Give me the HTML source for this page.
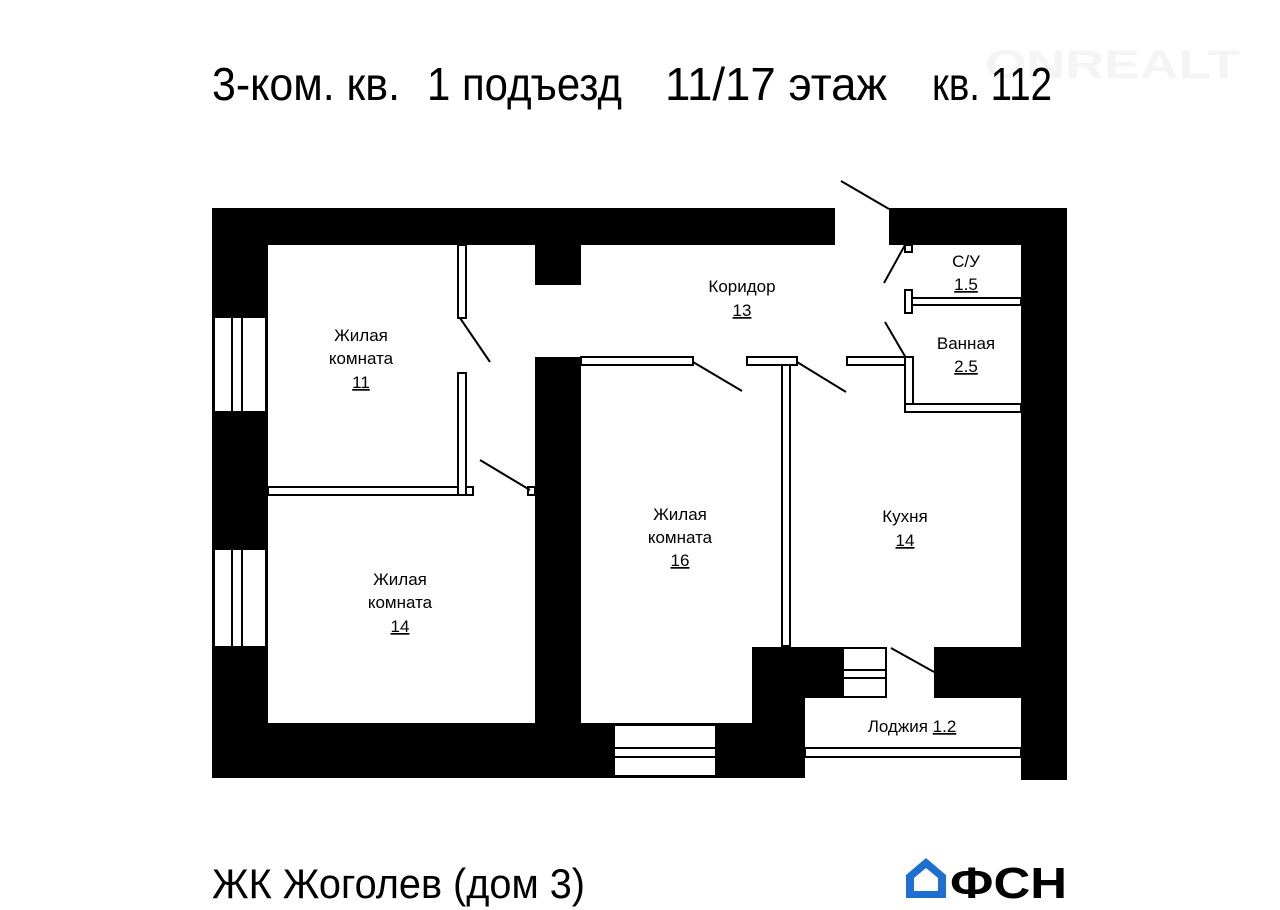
<!DOCTYPE html>
<html><head><meta charset="utf-8"><style>
html,body{margin:0;padding:0;background:#fff;width:1280px;height:910px;overflow:hidden}
svg text{font-family:"Liberation Sans",sans-serif;fill:#000}
</style></head><body>
<svg width="1280" height="910" viewBox="0 0 1280 910" xmlns="http://www.w3.org/2000/svg">
<text x="985" y="78" font-size="40" style="fill:#f4f4f4" font-weight="bold" textLength="255" lengthAdjust="spacingAndGlyphs">ONREALT</text>
<g font-size="46">
<text x="212" y="100" textLength="188" lengthAdjust="spacingAndGlyphs">3-ком. кв.</text>
<text x="427" y="100" textLength="195" lengthAdjust="spacingAndGlyphs">1 подъезд</text>
<text x="665" y="100" textLength="222" lengthAdjust="spacingAndGlyphs">11/17 этаж</text>
<text x="932" y="100" textLength="120" lengthAdjust="spacingAndGlyphs">кв. 112</text>
</g>
<g fill="#000">
<rect x="212" y="208" width="623" height="37"/>
<rect x="889" y="208" width="178" height="37"/>
<rect x="1021" y="208" width="46" height="572"/>
<rect x="212" y="208" width="56" height="570"/>
<rect x="212" y="723" width="593" height="55"/>
<rect x="535" y="245" width="46" height="40"/>
<rect x="535" y="357" width="46" height="421"/>
<rect x="752" y="647" width="90" height="51"/>
<rect x="752" y="647" width="53" height="131"/>
<rect x="934" y="647" width="87" height="51"/>
</g>
<g fill="#fff" stroke="#000" stroke-width="2">
<rect x="214" y="317" width="52" height="95"/>
<rect x="214" y="549" width="52" height="98"/>
<rect x="614" y="725" width="102" height="51"/>
<rect x="843" y="648" width="43" height="49"/>
<rect x="268" y="487" width="205" height="8"/>
<rect x="458" y="245" width="8" height="73"/>
<rect x="458" y="373" width="8" height="122"/>
<rect x="528" y="487" width="7" height="8"/>
<rect x="581" y="357" width="112" height="8"/>
<rect x="747" y="357" width="50" height="8"/>
<rect x="782" y="365" width="8" height="281"/>
<rect x="847" y="357" width="62" height="8"/>
<rect x="905" y="357" width="8" height="55"/>
<rect x="905" y="404" width="116" height="8"/>
<rect x="905" y="298" width="116" height="7"/>
<rect x="905" y="290" width="7" height="23"/>
<rect x="905" y="245" width="7" height="7"/>
<rect x="805" y="748" width="216" height="9"/>
</g>
<g stroke="#000" stroke-width="2">
<line x1="232" y1="317" x2="232" y2="412"/><line x1="242" y1="317" x2="242" y2="412"/>
<line x1="232" y1="549" x2="232" y2="647"/><line x1="242" y1="549" x2="242" y2="647"/>
<line x1="614" y1="748" x2="716" y2="748"/><line x1="614" y1="757" x2="716" y2="757"/>
<line x1="843" y1="670" x2="886" y2="670"/><line x1="843" y1="678" x2="886" y2="678"/>
<line x1="841" y1="181" x2="889" y2="209"/>
<line x1="905" y1="245" x2="884" y2="283"/>
<line x1="885" y1="322" x2="906" y2="358"/>
<line x1="693" y1="362" x2="742" y2="391"/>
<line x1="797" y1="362" x2="846" y2="392"/>
<line x1="460" y1="318" x2="490" y2="362"/>
<line x1="480" y1="460" x2="530" y2="490"/>
<line x1="891" y1="648" x2="934" y2="672"/>
</g>
<g font-size="17" text-anchor="middle">
<text x="742" y="292">Коридор</text><text x="742" y="316" text-decoration="underline">13</text>
<text x="966" y="267">С/У</text><text x="966" y="290" text-decoration="underline">1.5</text>
<text x="966" y="349">Ванная</text><text x="966" y="372" text-decoration="underline">2.5</text>
<text x="361" y="341">Жилая</text><text x="361" y="364">комната</text><text x="361" y="388" text-decoration="underline">11</text>
<text x="400" y="585">Жилая</text><text x="400" y="608">комната</text><text x="400" y="632" text-decoration="underline">14</text>
<text x="680" y="520">Жилая</text><text x="680" y="543">комната</text><text x="680" y="566" text-decoration="underline">16</text>
<text x="905" y="522">Кухня</text><text x="905" y="546" text-decoration="underline">14</text>
<text x="912" y="732">Лоджия <tspan text-decoration="underline">1.2</tspan></text>
</g>
<text x="212" y="898" font-size="42" textLength="373" lengthAdjust="spacingAndGlyphs">ЖК Жоголев (дом 3)</text>
<path d="M906 898 V875 L926 858 L946 875 V898 Z M914 891 H938 V878 L926 868 L914 878 Z" fill="#1f6fd0" fill-rule="evenodd"/>
<text x="950" y="898" font-size="44" font-weight="bold" textLength="117" lengthAdjust="spacingAndGlyphs">ФСН</text>
</svg>
</body></html>
